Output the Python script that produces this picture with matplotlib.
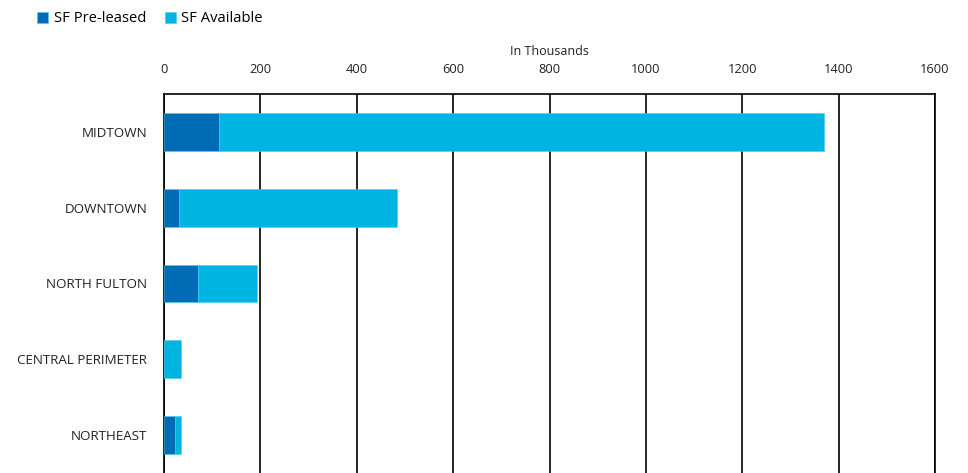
import matplotlib.pyplot as plt
import numpy as np

regions = ['MIDTOWN', 'DOWNTOWN', 'NORTH FULTON', 'CENTRAL PERIMETER', 'NORTHEAST']
pre_leased = [114, 31, 70, 0, 23]
available = [1255, 452, 122, 35, 12]
xticks = [0, 200, 400, 600, 800, 1000, 1200, 1400, 1600]

dark = '#006cb5'
light = '#00b5e2'

plt.rcParams['font.family'] = ['Open Sans', 'DejaVu Sans']

fig = plt.figure(figsize=(9.68, 4.73), dpi=100)
ax = fig.add_axes([164 / 968, 0.0, 771 / 968, 1 - 94 / 473])

y = np.arange(len(regions))
ax.barh(y, pre_leased, height=0.5, color=dark, edgecolor='#4fc6ea', linewidth=0.4,
        label='SF Pre-leased', zorder=3)
ax.barh(y, available, left=pre_leased, height=0.5, color=light, edgecolor='#4fc6ea',
        linewidth=0.4, label='SF Available', zorder=3)

ax.set_ylim(len(regions) - 0.5, -0.5)
ax.set_yticks(y)
ax.set_yticklabels(regions, fontsize=9.6, color='#222222')
ax.set_xlim(0, 1600)
ax.set_xticks(xticks)
ax.xaxis.tick_top()
ax.xaxis.set_label_position('top')
ax.set_xlabel('In Thousands', fontsize=9, labelpad=6, color='#222222')
ax.tick_params(axis='x', labelsize=9.3, length=0, pad=13, labelcolor='#222222')
ax.tick_params(axis='y', length=0, pad=12)
ax.grid(axis='x', color='black', linewidth=1.2, zorder=0)

for s in ['top', 'left', 'right']:
    ax.spines[s].set_color('black')
    ax.spines[s].set_linewidth(1.2)
ax.spines['bottom'].set_visible(False)

fig.legend(loc='upper left', bbox_to_anchor=(0.025, 1.004), ncol=2, frameon=False,
           fontsize=10.6, handlelength=0.75, handleheight=0.75, handletextpad=0.35,
           columnspacing=1.3)

fig.savefig('out.png', dpi=100)
